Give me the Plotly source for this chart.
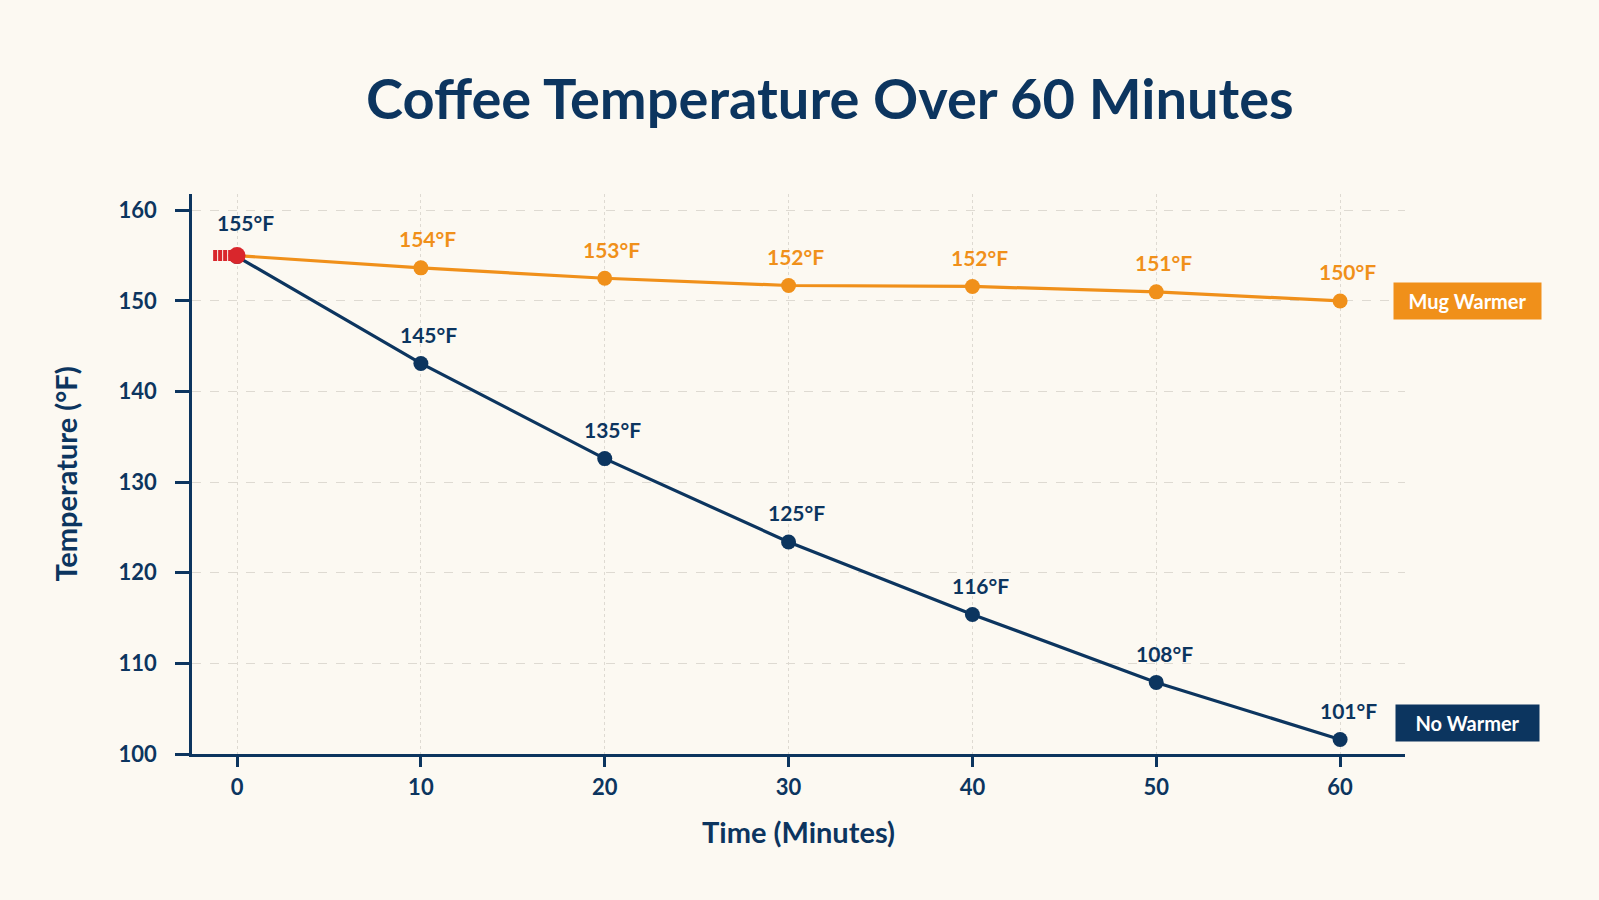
import plotly.graph_objects as go

# ---- data ----
minutes = [0, 10, 20, 30, 40, 50, 60]
mug_warmer = [155.0, 153.65, 152.5, 151.7, 151.6, 151.0, 150.0]
no_warmer = [154.9, 143.1, 132.6, 123.4, 115.4, 107.9, 101.6]
mug_warmer_labels = ["154°F", "153°F", "152°F", "152°F", "151°F", "150°F"]
no_warmer_labels = ["155°F", "145°F", "135°F", "125°F", "116°F", "108°F", "101°F"]
start_minute = [0]
start_temp = [155.0]
start_stub_x = [-1.3, -0.15]
start_stub_y = [155.0, 155.0]
y_ticks = [100, 110, 120, 130, 140, 150, 160]
x_ticks = [0, 10, 20, 30, 40, 50, 60]
series_names = ["Mug Warmer", "No Warmer"]
end_label_y = [150.0, 103.45]

NAVY = "#0c355f"
ORANGE = "#f0901a"
RED = "#d9262c"
BG = "#fcf9f2"
GRID = "#dedad2"
FONT = "Lato"

fig = go.Figure()

fig.add_trace(go.Scatter(
    x=minutes, y=mug_warmer, mode="lines+markers", name=series_names[0],
    line=dict(color=ORANGE, width=3.2),
    marker=dict(color=ORANGE, size=15), cliponaxis=False, showlegend=False))

fig.add_trace(go.Scatter(
    x=minutes, y=no_warmer, mode="lines+markers", name=series_names[1],
    line=dict(color=NAVY, width=3.2),
    marker=dict(color=NAVY, size=15), cliponaxis=False, showlegend=False))

fig.add_trace(go.Scatter(
    x=start_stub_x, y=start_stub_y, mode="lines",
    line=dict(color=RED, width=11, dash="4px,1px"),
    cliponaxis=False, showlegend=False, hoverinfo="skip"))

fig.add_trace(go.Scatter(
    x=start_minute, y=start_temp, mode="markers",
    marker=dict(color=RED, size=17), cliponaxis=False, showlegend=False))

annotations = []
for xv, yv, lab in zip(minutes[1:], mug_warmer[1:], mug_warmer_labels):
    annotations.append(dict(x=xv, y=yv, xref="x", yref="y", text=lab,
                            showarrow=False, yshift=29, xshift=7,
                            font=dict(family=FONT, size=21, color=ORANGE, weight="bold")))
for xv, yv, lab in zip(minutes, no_warmer, no_warmer_labels):
    annotations.append(dict(x=xv, y=yv, xref="x", yref="y", text=lab,
                            showarrow=False, yshift=(34 if xv == 0 else 29), xshift=8,
                            font=dict(family=FONT, size=21, color=NAVY, weight="bold")))

annotations.append(dict(x=0.990, y=end_label_y[0], xref="paper", yref="y",
                        xanchor="left", yanchor="middle",
                        text=series_names[0], showarrow=False, width=135,
                        bgcolor=ORANGE, borderpad=6,
                        font=dict(family=FONT, size=20, color="white", weight="bold")))
annotations.append(dict(x=0.992, y=end_label_y[1], xref="paper", yref="y",
                        xanchor="left", yanchor="middle",
                        text=series_names[1], showarrow=False, width=131,
                        bgcolor=NAVY, borderpad=6,
                        font=dict(family=FONT, size=20, color="white", weight="bold")))

fig.update_layout(
    width=1599, height=900,
    paper_bgcolor=BG, plot_bgcolor=BG,
    margin=dict(l=192, r=194, t=194, b=146),
    title=dict(text="Coffee Temperature Over 60 Minutes", x=0.519, xanchor="center",
               y=0.89, yanchor="middle",
               font=dict(family=FONT, size=56, color=NAVY, weight="bold")),
    annotations=annotations,
    font=dict(family=FONT, color=NAVY),
)

fig.update_xaxes(
    range=[-2.45, 63.53], tickvals=x_ticks, ticktext=[str(v) for v in x_ticks],
    showline=True, linecolor=NAVY, linewidth=2.5,
    ticks="outside", ticklen=10, tickwidth=2.5, tickcolor=NAVY,
    showgrid=True, gridcolor=GRID, gridwidth=1, griddash="dot",
    zeroline=False,
    tickfont=dict(family=FONT, size=22, color=NAVY, weight="bold"),
    ticklabelstandoff=2,
    title=dict(text="Time (Minutes)", standoff=24,
               font=dict(family=FONT, size=29, color=NAVY, weight="bold")),
)
fig.update_yaxes(
    range=[100, 161.8], tickvals=y_ticks, ticktext=[str(v) for v in y_ticks],
    showline=True, linecolor=NAVY, linewidth=2.5,
    ticks="outside", ticklen=14, tickwidth=2.5, tickcolor=NAVY,
    showgrid=True, gridcolor=GRID, gridwidth=1, griddash="dash",
    zeroline=False,
    tickfont=dict(family=FONT, size=22, color=NAVY, weight="bold"),
    ticklabelstandoff=14,
    title=dict(text="Temperature (°F)", standoff=33,
               font=dict(family=FONT, size=29, color=NAVY, weight="bold")),
)

fig.write_html("out.html")
